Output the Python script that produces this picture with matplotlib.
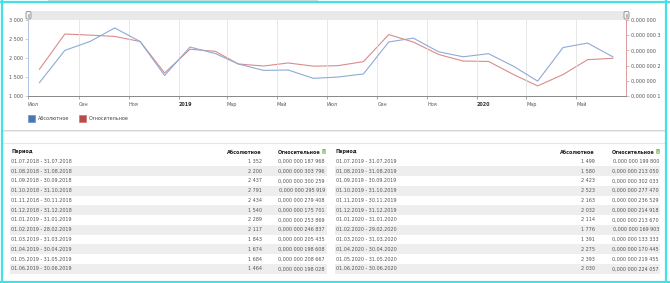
import datetime as dt
import numpy as np
import pandas as pd
import matplotlib
matplotlib.use('Agg')
import matplotlib.pyplot as plt
import matplotlib.dates as mdates
from matplotlib.patches import Rectangle, FancyBboxPatch

plt.rcParams['font.family'] = ['DejaVu Sans']

# data
periods = ['01.07.2018 - 31.07.2018', '01.08.2018 - 31.08.2018', '01.09.2018 - 30.09.2018',
           '01.10.2018 - 31.10.2018', '01.11.2018 - 30.11.2018', '01.12.2018 - 31.12.2018',
           '01.01.2019 - 31.01.2019', '01.02.2019 - 28.02.2019', '01.03.2019 - 31.03.2019',
           '01.04.2019 - 30.04.2019', '01.05.2019 - 31.05.2019', '01.06.2019 - 30.06.2019',
           '01.07.2019 - 31.07.2019', '01.08.2019 - 31.08.2019', '01.09.2019 - 30.09.2019',
           '01.10.2019 - 31.10.2019', '01.11.2019 - 30.11.2019', '01.12.2019 - 31.12.2019',
           '01.01.2020 - 31.01.2020', '01.02.2020 - 29.02.2020', '01.03.2020 - 31.03.2020',
           '01.04.2020 - 30.04.2020', '01.05.2020 - 31.05.2020', '01.06.2020 - 30.06.2020']
absolute = [1352, 2200, 2437, 2791, 2434, 1540, 2289, 2117, 1843, 1674, 1684, 1464,
            1499, 1580, 2423, 2523, 2163, 2032, 2114, 1776, 1391, 2275, 2393, 2030]
relative = [187968, 303796, 300259, 295919, 279408, 175701, 253869, 246837, 205435, 198608, 208667, 198028,
            199800, 213050, 302033, 277470, 236529, 214918, 213670, 169903, 133333, 170445, 219455, 224057]
relative = [v * 1e-12 for v in relative]

xtick_labels = ['Июл', 'Сен', 'Ноя', '2019', 'Мар', 'Май', 'Июл', 'Сен', 'Ноя', '2020', 'Мар', 'Май']
left_ticks = [1000, 1500, 2000, 2500, 3000]
left_labels = ['1 000', '1 500', '2 000', '2 500', '3 000']
right_ticks = [0.1e-6, 0.15e-6, 0.2e-6, 0.25e-6, 0.3e-6, 0.35e-6]
right_labels = ['0,000 000 1', '0,000 000', '0,000 000 2', '0,000 000', '0,000 000 3', '0,000 000']

W, H = 670, 283
BLUE = '#8eaad6'
RED = '#d98c8c'
fs = 3.5

fig = plt.figure(figsize=(W / 100, H / 100), dpi=100)
fig.patch.set_facecolor('white')

# background / page in pixel coords
bg = fig.add_axes([0, 0, 1, 1])
bg.set_xlim(0, W)
bg.set_ylim(H, 0)
bg.axis('off')

bg.add_patch(Rectangle((48, 0), 270, 1.6, color='#dcdcdc', lw=0))
# chart card shadow
bg.add_patch(Rectangle((3, 129.5), 662, 1.2, color='#d6d6d6', lw=0))
bg.add_patch(Rectangle((3, 130.7), 662, 1.2, color='#ececec', lw=0))
# table card top line
bg.plot([3, 665], [142.5, 142.5], color='#e6e6e6', lw=0.8)

# scrollbar
bg.add_patch(Rectangle((28, 11), 598, 9, color='#e9e9e9', lw=0))
for hx in (26, 624):
    bg.add_patch(FancyBboxPatch((hx, 11.5), 5, 7.5, boxstyle='round,pad=0,rounding_size=1.5',
                                fc='#f4f4f4', ec='#8a8a8a', lw=0.6))
    bg.plot([hx + 2, hx + 2], [13.5, 17], color='#8a8a8a', lw=0.4)
    bg.plot([hx + 3, hx + 3], [13.5, 17], color='#8a8a8a', lw=0.4)

# legend
bg.add_patch(Rectangle((28, 115), 7, 7, fc='#4a76b2', ec='#6f93c6', lw=0.5))
bg.text(37.5, 118.7, 'Абсолютное', fontsize=fs, color='#444', va='center')
bg.add_patch(Rectangle((79, 115), 7, 7, fc='#b84a4a', ec='#cf7777', lw=0.5))
bg.text(88.5, 118.7, 'Относительное', fontsize=fs, color='#444', va='center')

# tables
def fmt_abs(v):
    return f'{v:,}'.replace(',', ' ')

def fmt_rel(v):
    s = f'{v:.12f}'
    d = s.split('.')[1]
    return '0,' + ' '.join(d[i:i + 3] for i in range(0, 12, 3))

tables = [(10, 327, 262, 325, 0), (335, 660, 595, 659, 12)]
row0, dy = 161.3, 9.78
for x0, x1, xa, xr, off in tables:
    bg.text(x0 + 1, 152, 'Период', fontsize=fs, color='#222', weight='bold', va='center')
    bg.text(xa, 152, 'Абсолютное', fontsize=fs, color='#222', weight='bold', va='center', ha='right')
    bg.text(xr - 4.5, 152, 'Относительное', fontsize=fs, color='#222', weight='bold', va='center', ha='right')
    bg.add_patch(Rectangle((xr - 3.5, 149), 3.6, 3.8, fc='#b8dca0', ec='#7fb85f', lw=0.4))
    bg.text(xr - 1.7, 151.1, '?', fontsize=2.6, color='#3a7a2a', va='center', ha='center')
    for i in range(12):
        y = row0 + i * dy
        if i % 2 == 1:
            bg.add_patch(Rectangle((x0, y - dy / 2), x1 - x0, dy, color='#eeeeee', lw=0))
        k = off + i
        bg.text(x0 + 1, y, periods[k], fontsize=fs, color='#555', va='center')
        bg.text(xa, y, fmt_abs(absolute[k]), fontsize=fs, color='#555', va='center', ha='right')
        bg.text(xr, y, fmt_rel(relative[k]), fontsize=fs, color='#555', va='center', ha='right')

# cyan page border
bg.plot([2, 2], [0, H], color='#3fe3e6', lw=1.6)
bg.plot([0, W], [2, 2], color='#3fe3e6', lw=1.6)
bg.plot([666, 666], [0, H], color='#3fe3e6', lw=1.6)
bg.plot([0, W], [281.5, 281.5], color='#3fe3e6', lw=1.6)

# chart
px0, px1, py0, py1 = 28, 626, 20, 96
ax = fig.add_axes([px0 / W, 1 - py1 / H, (px1 - px0) / W, (py1 - py0) / H])
ax.set_facecolor('none')
dates = pd.date_range('2018-07-01', periods=24, freq='MS') + pd.Timedelta(days=14)
ticks = pd.date_range('2018-07-01', periods=12, freq='2MS')

ax.set_xlim(dt.datetime(2018, 7, 1), dt.datetime(2020, 7, 1))
ax.set_ylim(1000, 3000)
for t in ticks[1:]:
    ax.axvline(t, color='#e3e3e3', lw=0.6, zorder=0)
ax.plot(dates, absolute, color=BLUE, lw=0.8, zorder=3)

ax.set_xticks(ticks)
ax.set_xticklabels(xtick_labels, fontsize=fs, color='#555', ha='left')
for lab in ax.get_xticklabels():
    if lab.get_text() in ('2019', '2020'):
        lab.set_weight('bold')
        lab.set_color('#333')
ax.tick_params(axis='x', length=2.5, width=0.5, color='#888', pad=1.5)
ax.set_yticks(left_ticks)
ax.set_yticklabels(left_labels, fontsize=fs, color='#555')
ax.tick_params(axis='y', length=2.5, width=0.5, color='#b0c4e0', pad=1)
for s in ('top', 'right'):
    ax.spines[s].set_visible(False)
ax.spines['bottom'].set_color('#888')
ax.spines['bottom'].set_linewidth(0.7)
ax.spines['left'].set_color('#b0c4e0')
ax.spines['left'].set_linewidth(0.7)

ax2 = ax.twinx()
ax2.plot(dates, relative, color=RED, lw=0.8, zorder=2)
ax2.set_ylim(0.1e-6, 0.35e-6)
ax2.set_yticks(right_ticks)
ax2.set_yticklabels(right_labels, fontsize=fs, color='#555')
ax2.tick_params(axis='y', length=2.5, width=0.5, color='#d99a9a', pad=1)
for s in ('top', 'left', 'bottom'):
    ax2.spines[s].set_visible(False)
ax2.spines['right'].set_color('#d99a9a')
ax2.spines['right'].set_linewidth(0.7)
ax.set_zorder(ax2.get_zorder() + 1)

fig.savefig('out.png', dpi=100)
